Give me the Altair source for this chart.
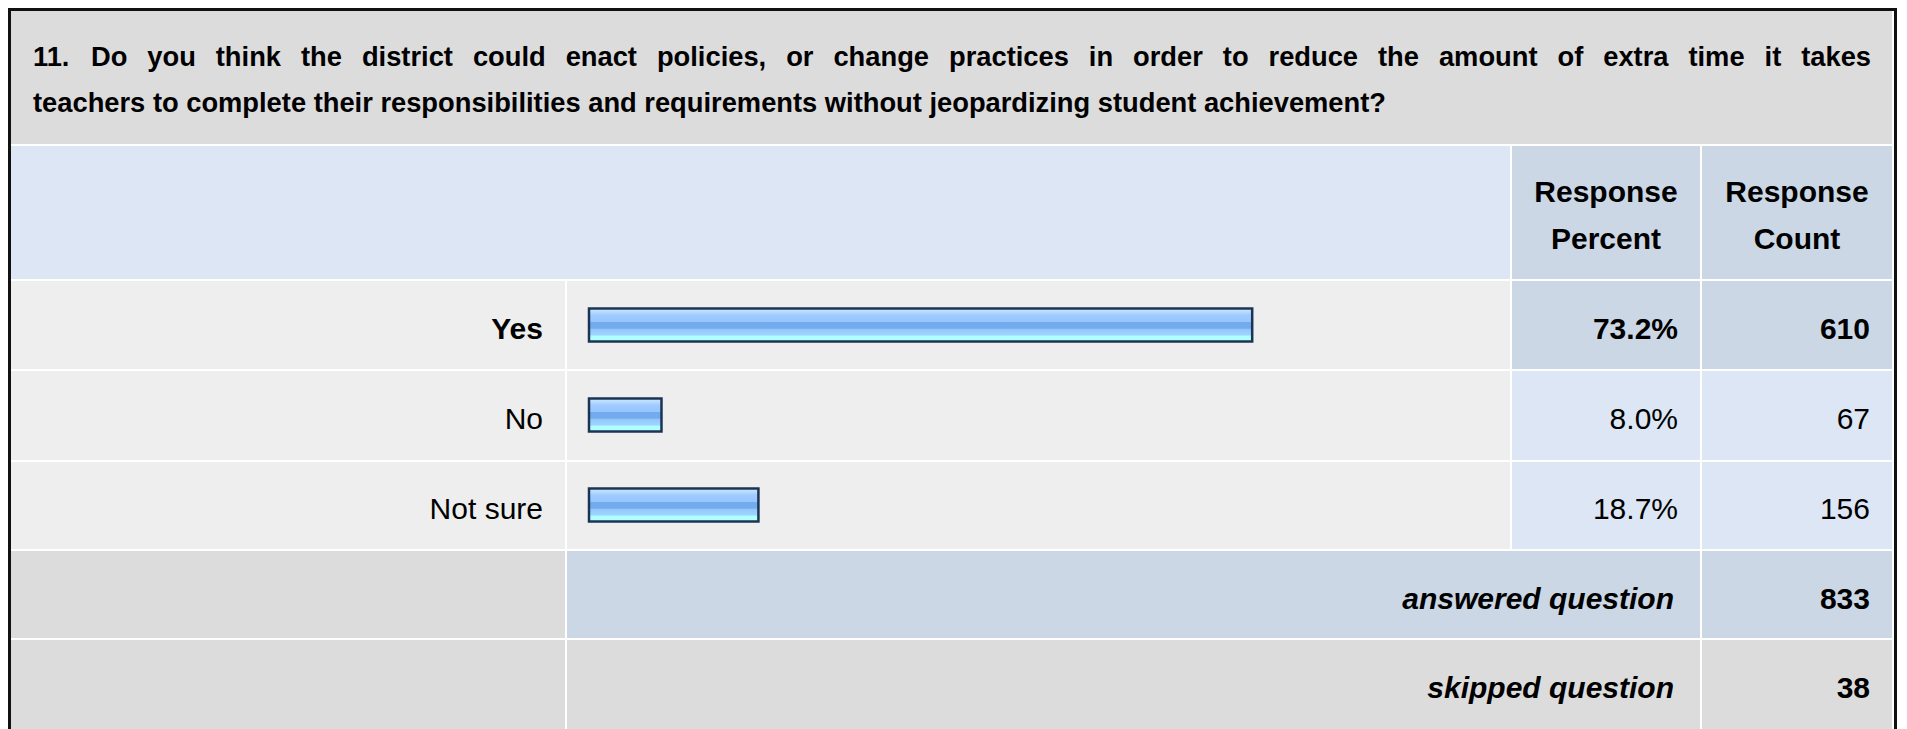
import altair as alt
import pandas as pd

# ---------------- data ----------------
question_lines = [
    "11. Do you think the district could enact policies, or change practices in order to reduce the amount of extra time it takes",
    "teachers to complete their responsibilities and requirements without jeopardizing student achievement?",
]
answers = ["Yes", "No", "Not sure"]
percents = [73.2, 8.0, 18.7]
counts = [610, 67, 156]
header_pct = ["Response", "Percent"]
header_cnt = ["Response", "Count"]
summary_labels = ["answered question", "skipped question"]
summary_counts = [833, 38]

# ---------------- layout (view pixels) ----------------
W, H = 1891, 721
FONT = "Liberation Sans, Arial, sans-serif"
FS = 30
TITLE_FS = 27.3
TITLE_LEFT, TITLE_RIGHT = 25, 1863
TITLE_BASE = [58, 104]

COL_LABEL = (3, 557)
COL_BAR = (559, 1502)
COL_PCT = (1504, 1692)
COL_CNT = (1694, 1884)
ROW_TITLE = (3, 136)
ROW_HEAD = (138, 271)
ROW_ANS = [(273, 361), (363, 452), (454, 541)]
ROW_SUM = [(543, 630), (632, H)]
BAND_RANGE = [272, 542]

GRAY = "#dcdcdc"
LIGHT = "#eeeeee"
BLUE = "#dce6f4"
BLUE_DARK = "#cbd7e5"

max_count = max(counts)

cells = []
def cell(c, r, fill):
    cells.append({"x": c[0], "x2": c[1], "y": r[0], "y2": r[1], "fill": fill})

cell((COL_LABEL[0], COL_CNT[1]), ROW_TITLE, GRAY)
cell((COL_LABEL[0], COL_BAR[1]), ROW_HEAD, BLUE)
cell(COL_PCT, ROW_HEAD, BLUE_DARK)
cell(COL_CNT, ROW_HEAD, BLUE_DARK)
for r, c in zip(ROW_ANS, counts):
    cell(COL_LABEL, r, LIGHT)
    cell(COL_BAR, r, LIGHT)
    vf = BLUE_DARK if c == max_count else BLUE
    cell(COL_PCT, r, vf)
    cell(COL_CNT, r, vf)
cell(COL_LABEL, ROW_SUM[0], GRAY)
cell((COL_BAR[0], COL_PCT[1]), ROW_SUM[0], BLUE_DARK)
cell(COL_CNT, ROW_SUM[0], BLUE_DARK)
cell(COL_LABEL, ROW_SUM[1], GRAY)
cell((COL_BAR[0], COL_PCT[1]), ROW_SUM[1], GRAY)
cell(COL_CNT, ROW_SUM[1], GRAY)
cells_df = pd.DataFrame(cells)

border_df = pd.DataFrame([
    {"x": 0, "x2": 3, "y": 0, "y2": H},
    {"x": 0, "x2": 1889, "y": 0, "y2": 3},
    {"x": 1886, "x2": 1889, "y": 0, "y2": H},
])

# ---- justified first title line (Arial/Liberation Sans Bold advance widths, per 1000 em)
ADV = {
    " ": 278, ".": 278, ",": 278, "?": 611, "1": 556, "D": 722,
    "a": 556, "b": 611, "c": 556, "d": 611, "e": 556, "f": 333, "g": 611, "h": 611,
    "i": 278, "j": 278, "k": 556, "l": 278, "m": 889, "n": 611, "o": 611, "p": 611,
    "q": 611, "r": 389, "s": 556, "t": 333, "u": 611, "v": 556, "w": 778, "x": 556,
    "y": 556, "z": 500,
}

def text_w(s, fs):
    return sum(ADV.get(ch, 556) for ch in s) * fs / 1000.0

words = question_lines[0].split(" ")
ww = [text_w(w, TITLE_FS) for w in words]
gap = (TITLE_RIGHT - TITLE_LEFT - sum(ww)) / (len(words) - 1)
xs = []
cur = TITLE_LEFT
for w_ in ww:
    xs.append(cur)
    cur += w_ + gap
title_rows = [{"t": w, "xx": x, "yy": TITLE_BASE[0]} for w, x in zip(words, xs)]
title_rows.append({"t": question_lines[1], "xx": TITLE_LEFT, "yy": TITLE_BASE[1]})
title_df = pd.DataFrame(title_rows)

data = pd.DataFrame({"answer": answers, "pct": percents, "count": counts})
data["is_max"] = data["count"] == max_count

band = alt.Scale(type="band", domain=answers, range=BAND_RANGE, paddingInner=0, paddingOuter=0)

cells_layer = alt.Chart(cells_df).mark_rect(strokeWidth=0).encode(
    x=alt.X("x:Q", scale=None, axis=None), x2="x2:Q",
    y=alt.Y("y:Q", scale=None, axis=None), y2="y2:Q",
    color=alt.Color("fill:N", scale=None, legend=None),
)

border_layer = alt.Chart(border_df).mark_rect(color="#111111", strokeWidth=0).encode(
    x=alt.X("x:Q", scale=None, axis=None), x2="x2:Q",
    y=alt.Y("y:Q", scale=None, axis=None), y2="y2:Q",
)

grad = alt.LinearGradient(
    gradient="linear", x1=0, x2=0, y1=0, y2=1,
    stops=[
        alt.GradientStop(color="#d0e8ff", offset=0),
        alt.GradientStop(color="#b8dcff", offset=0.1),
        alt.GradientStop(color="#a0ccff", offset=0.2),
        alt.GradientStop(color="#94c6ff", offset=0.4),
        alt.GradientStop(color="#74aaee", offset=0.42),
        alt.GradientStop(color="#74aaee", offset=0.6),
        alt.GradientStop(color="#90c6fc", offset=0.62),
        alt.GradientStop(color="#a0d4ff", offset=0.8),
        alt.GradientStop(color="#b0ffff", offset=0.84),
        alt.GradientStop(color="#b0ffff", offset=1),
    ],
)

base = alt.Chart(data)

bars = base.mark_bar(size=33, fill=grad, stroke="#1c3454", strokeWidth=2.5).encode(
    x=alt.X("pct:Q", scale=alt.Scale(domain=[0, 100], range=[581, 1487]), axis=None),
    y=alt.Y("answer:N", scale=band, axis=None),
)

def row_text(x, field, bold, fmt_expr=None):
    ch = base
    if fmt_expr:
        ch = ch.transform_calculate(lbl=fmt_expr)
        field = "lbl"
    ch = ch.transform_filter(alt.datum.is_max if bold else ~alt.datum.is_max)
    return ch.mark_text(
        align="right", baseline="alphabetic", dy=14, fontSize=FS, font=FONT,
        fontWeight="bold" if bold else "normal", color="#000000",
    ).encode(
        x=alt.value(x),
        y=alt.Y("answer:N", scale=band, axis=None),
        text=alt.Text(f"{field}:N"),
    )

row_layers = []
for bold in (True, False):
    row_layers.append(row_text(535, "answer", bold))
    row_layers.append(row_text(1670, "pct", bold, "format(datum.pct, '.1f') + '%'"))
    row_layers.append(row_text(1862, "count", bold, "format(datum.count, 'd')"))

# title
title_layer = alt.Chart(title_df).mark_text(
    align="left", baseline="alphabetic", fontSize=TITLE_FS, font=FONT, fontWeight="bold", color="#000000"
).encode(
    x=alt.X("xx:Q", scale=None, axis=None), y=alt.Y("yy:Q", scale=None, axis=None), text="t:N"
)

# header
head_df = pd.DataFrame({
    "t": header_pct + header_cnt,
    "xx": [(COL_PCT[0] + COL_PCT[1]) / 2] * 2 + [(COL_CNT[0] + COL_CNT[1]) / 2] * 2,
    "yy": [194, 241, 194, 241],
})
head_layer = alt.Chart(head_df).mark_text(
    align="center", baseline="alphabetic", fontSize=FS, font=FONT, fontWeight="bold", color="#000000"
).encode(
    x=alt.X("xx:Q", scale=None, axis=None), y=alt.Y("yy:Q", scale=None, axis=None), text="t:N"
)

# summary rows
sum_df = pd.DataFrame({
    "lab": summary_labels,
    "cnt": [str(v) for v in summary_counts],
    "yy": [(r[0] + r[1]) / 2 + 14 for r in [ROW_SUM[0], (632, 720)]],
})
sum_lab = alt.Chart(sum_df).mark_text(
    align="right", baseline="alphabetic", fontSize=FS, font=FONT, fontWeight="bold",
    fontStyle="italic", color="#000000"
).encode(x=alt.value(1666), y=alt.Y("yy:Q", scale=None, axis=None), text="lab:N")
sum_cnt = alt.Chart(sum_df).mark_text(
    align="right", baseline="alphabetic", fontSize=FS, font=FONT, fontWeight="bold", color="#000000"
).encode(x=alt.value(1862), y=alt.Y("yy:Q", scale=None, axis=None), text="cnt:N")

chart = alt.layer(
    cells_layer, border_layer, bars, *row_layers, title_layer, head_layer, sum_lab, sum_cnt
).resolve_scale(
    x="independent", y="independent", color="independent"
).properties(
    width=W, height=H, padding=0, autosize="none", background="#ffffff"
).configure_view(stroke=None)

chart.save("out.html", embed_options={"renderer": "svg", "actions": False})
